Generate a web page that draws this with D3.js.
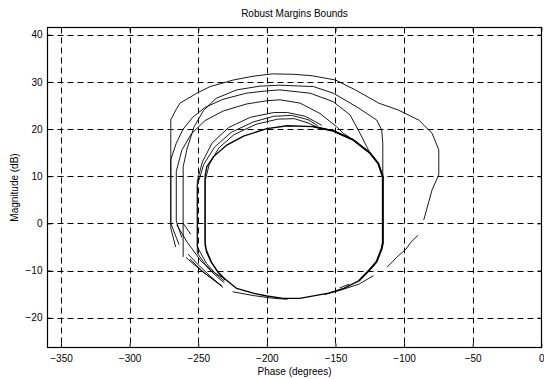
<!DOCTYPE html>
<html>
<head>
<meta charset="utf-8">
<script src="https://cdn.jsdelivr.net/npm/d3@7"></script>
<style>
  body { margin: 0; background: #fff; }
  text { font-family: "Liberation Sans", Arial, sans-serif; fill: #000; }
</style>
</head>
<body>
<svg id="chart" width="544" height="379"></svg>
<script>
// tick values
const phaseTicks = [-350, -300, -250, -200, -150, -100, -50, 0];
const magTicks = [-20, -10, 0, 10, 20, 30, 40];

// main (innermost) loop, drawn heavier
const mainLoop = [[-230.5,-11.8],[-236,-10.2],[-241,-8],[-244,-6],[-245,-4],[-245,10],[-243.8,12],[-239,14.1],[-229.2,16.6],[-217,18.5],[-200,20.1],[-185,20.7],[-166,20.5],[-151.6,19.6],[-137,17.7],[-124.8,14.9],[-118.8,12.7],[-115.5,9.9],[-115.5,-4.2],[-116.5,-5.5],[-120,-8.1],[-125,-9.8],[-133,-12.2],[-144,-13.8],[-155,-14.8],[-168,-15.5],[-176,-15.9],[-188,-15.9],[-200,-15.4],[-210,-14.8],[-222,-13.8],[-230.5,-11.8]];
// heavier right-hand side of the main loop
const mainRight = [[-166,20.5],[-151.6,19.6],[-137,17.7],[-124.8,14.9],[-118.8,12.7],[-115.5,9.9],[-115.5,-4.2],[-116.5,-5.5],[-120,-8.1],[-125,-9.8],[-133,-12.2]];

// outer bounds, broken into pieces
const bound1 = [
  [[-266.5,-5],[-270,-1],[-270,22],[-266,24.2],[-263.3,25.5],[-251,27.6],[-241.4,29],[-224.4,30.4],[-210,31.2],[-196,31.7],[-180,31.6],[-167,31.3],[-150,30.4],[-135.5,28.3],[-118.5,25.5],[-104,24],[-89.3,21.9],[-79.6,19.1],[-74.7,15.6],[-74.7,10.3],[-79.6,7.1],[-85.7,0.7]],
  [[-89.8,-2.5],[-95,-4],[-99,-5.6],[-104,-6.8],[-112.4,-9.3]],
  [[-122.4,-11.1],[-133,-12.9],[-146.7,-14.2],[-158,-15.1]],
  [[-257.5,-6.5],[-250,-8.8],[-242,-11],[-232,-13.6]]
];
const bound2 = [
  [[-264,-4.5],[-270,0],[-270,13.5],[-266,17],[-261,20],[-254,22.5],[-245,24.6],[-232,26.3],[-215,27.6],[-200,28.1],[-190.5,28.3],[-168.5,27.6],[-151.6,25.8],[-139.4,23],[-132.1,19.1],[-127.3,16.3],[-124.8,14.9]],
  [[-259,-7.2],[-248,-10],[-233,-13.2]]
];
const bound3 = [
  [[-261,-7.1],[-261,12],[-258,16],[-253,20.5],[-246,24],[-237,26.5],[-222,28.3],[-205,29.1],[-190.5,29.3],[-166,29],[-151.6,27.6],[-134.5,24.7],[-119.9,21.9],[-116.3,19.8],[-115.5,17],[-115.5,9.9]],
  [[-261,0],[-255.5,-2.3]]
];
const bound4 = [
  [[-262,-3],[-266,0.5],[-266,11],[-262,15.5],[-255,19],[-245,21.8],[-232,23.8],[-215,25.3],[-200,26],[-190.4,26.2],[-175.8,25.5],[-161.3,23.3],[-149.2,20.5],[-144.3,19.1],[-140,18.3]],
  [[-265.7,-0.3],[-258,-4],[-248,-8],[-238,-10.5],[-230.5,-11.8]]
];
const bound5 = [
  [[-250.7,-6.3],[-250.7,9],[-247,13],[-240,17],[-228,20.3],[-212,22.5],[-195,23.5],[-185,23.5],[-172,22.7],[-160,20.8]],
  [[-250.7,-6.3],[-243,-9.5],[-236,-11.4],[-231,-12.6]]
];
const bound6 = [
  [[-250.7,-5],[-250.7,8],[-246,12.5],[-238,16.2],[-226,19.3],[-210,21.5],[-195,22.7],[-182,22.9],[-170,22],[-163,20.7]],
  [[-250.7,-5],[-244,-8.5],[-237,-10.8],[-231,-12.2]]
];
const bound7 = [
  [[-245,-4.9],[-245,9],[-242,12.5],[-235,16],[-224,18.8],[-208,21],[-192,22.1],[-180,22.2],[-170,21.3],[-165,20.6]],
  [[-245,-4.9],[-240,-8.4],[-235,-10.6],[-230.5,-12]]
];
const extraPieces = [
  [[-256,-7.6],[-246,-10.4],[-233,-13.3]],
  [[-225,-14.5],[-210,-15.3],[-195,-15.9],[-185,-16.1]],
  [[-147,-13.7],[-140,-12.9]]
];

const x = d3.scaleLinear().domain([-360, 0]).range([47.3, 541.3]);
const y = d3.scaleLinear().domain([-26.15, 41.7]).range([346.7, 26.7]);

const svg = d3.select("#chart");
const px = v => Math.round(x(v)) + 0.5;
const py = v => Math.round(y(v)) + 0.5;
const [x0, x1] = [Math.round(x(-360)) + 0.5, Math.round(x(0)) + 0.5];
const [y0, y1] = [Math.round(y(-26.15)) + 0.5, Math.round(y(41.7)) + 0.5];

// dashed grid
const grid = svg.append("g").attr("stroke", "#000").attr("stroke-width", 1).attr("stroke-dasharray", "6,4");
grid.selectAll("line.v").data(phaseTicks.filter(d => d > -360 && d < 0)).enter()
  .append("line").attr("x1", px).attr("x2", px).attr("y1", y1).attr("y2", y0);
grid.selectAll("line.h").data(magTicks).enter()
  .append("line").attr("x1", x0).attr("x2", x1).attr("y1", py).attr("y2", py);

// curves
const line = d3.line().x(d => x(d[0])).y(d => y(d[1]));
const curves = svg.append("g").attr("fill", "none").attr("stroke", "#000")
  .attr("stroke-linejoin", "round");
const pieces = [].concat(bound1, bound2, bound3, bound4, bound5, bound6, bound7, extraPieces);
curves.selectAll("path.piece").data(pieces).enter()
  .append("path").attr("class", "piece").attr("d", line).attr("stroke-width", 0.9);
curves.append("path").datum(mainLoop).attr("d", line).attr("stroke-width", 1.3);
curves.append("path").datum(mainRight).attr("d", line).attr("stroke-width", 1.9);

// axes with inward ticks on all four sides
const axBottom = d3.axisBottom(x).tickValues(phaseTicks).tickSizeInner(-4).tickSizeOuter(0).tickPadding(7);
const axLeft = d3.axisLeft(y).tickValues(magTicks).tickSizeInner(-4).tickSizeOuter(0).tickPadding(5);
const axTop = d3.axisTop(x).tickValues(phaseTicks).tickSizeInner(-4).tickSizeOuter(0).tickFormat("");
const axRight = d3.axisRight(y).tickValues(magTicks).tickSizeInner(-4).tickSizeOuter(0).tickFormat("");

function styleAxis(g) {
  g.select(".domain").remove();
  g.selectAll("text").attr("font-size", 10).attr("font-family", "Liberation Sans, Arial, sans-serif");
}
svg.append("g").attr("transform", `translate(0,${y0})`).call(axBottom).call(styleAxis);
svg.append("g").attr("transform", `translate(${x0},0)`).call(axLeft).call(styleAxis);
svg.append("g").attr("transform", `translate(0,${y1})`).call(axTop).call(styleAxis);
svg.append("g").attr("transform", `translate(${x1},0)`).call(axRight).call(styleAxis);

// box
svg.append("rect").attr("x", x0).attr("y", y1).attr("width", x1 - x0).attr("height", y0 - y1)
  .attr("fill", "none").attr("stroke", "#000").attr("stroke-width", 1.2);

// labels
svg.append("text").attr("x", (x0 + x1) / 2).attr("y", 17).attr("text-anchor", "middle")
  .attr("font-size", 10).text("Robust Margins Bounds");
svg.append("text").attr("x", (x0 + x1) / 2).attr("y", 375).attr("text-anchor", "middle")
  .attr("font-size", 10).text("Phase (degrees)");
svg.append("text").attr("transform", `translate(18,${(y0 + y1) / 2}) rotate(-90)`)
  .attr("text-anchor", "middle").attr("font-size", 10).text("Magnitude (dB)");
</script>
</body>
</html>
